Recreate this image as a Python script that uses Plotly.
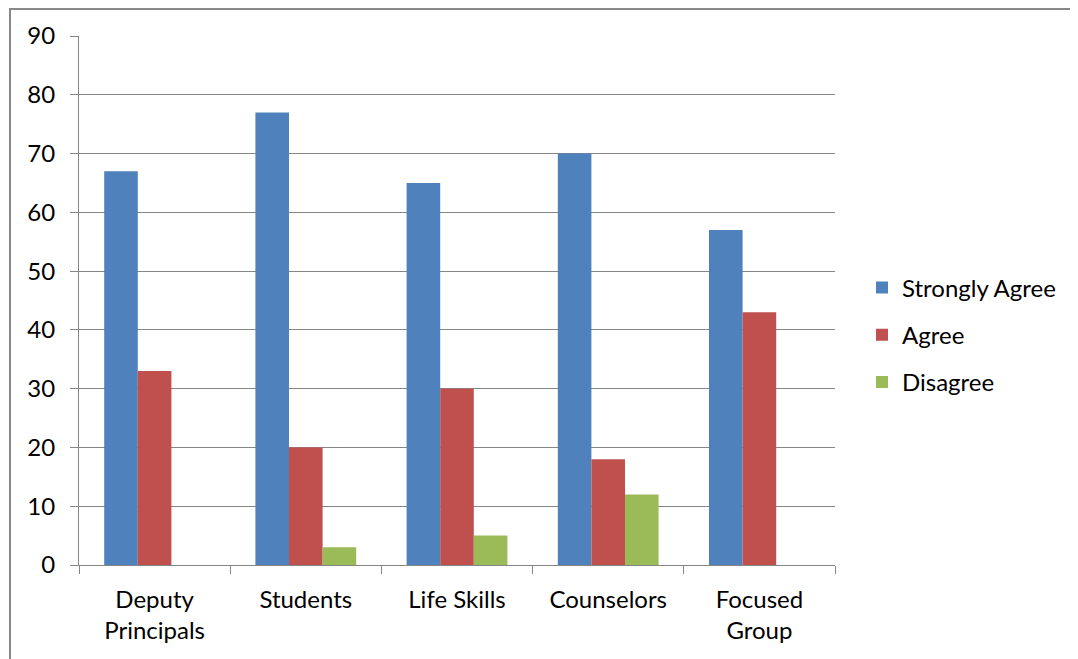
import plotly.graph_objects as go

categories = ["Deputy<br>Principals", "Students", "Life Skills", "Counselors", "Focused<br>Group"]
strongly_agree = [67, 77, 65, 70, 57]
agree = [33, 20, 30, 18, 43]
disagree = [0, 3, 5, 12, 0]
y_ticks = [0, 10, 20, 30, 40, 50, 60, 70, 80, 90]

FONT = "Lato"
FS = 24
GRID = "#868686"

fig = go.Figure()
for name, vals, col in [("Strongly Agree", strongly_agree, "#4F81BD"),
                        ("Agree", agree, "#C0504D"),
                        ("Disagree", disagree, "#9BBB59")]:
    fig.add_trace(go.Bar(x=categories, y=vals, name=name, marker_color=col,
                         marker_line_width=0, legendgroup=name))

OFF = 8  # page body margin
L, R, T, B = 79 - OFF, 835 - OFF, 36 - OFF, 565 - OFF
W, H = 1078 - OFF, 659 - OFF
pw, ph = R - L, B - T

bx = (10 - OFF - L) / pw
by = 1 + (T - 1) / ph

fig.update_layout(
    width=W, height=H,
    margin=dict(l=L, r=W - R, t=T, b=H - B, pad=0),
    paper_bgcolor="white", plot_bgcolor="white",
    barmode="group", bargap=1.5 / 4.5, bargroupgap=0,
    font=dict(family=FONT, size=FS, color="black"),
    showlegend=True,
    legend=dict(x=(862 - OFF - L) / pw, xanchor="left",
                y=(565 - 335) / 529, yanchor="middle",
                font=dict(family=FONT, size=FS), tracegroupgap=13,
                itemwidth=30, bgcolor="rgba(0,0,0,0)"),
    xaxis=dict(showline=True, linecolor=GRID, linewidth=1, ticks="outside",
               tickson="boundaries", ticklen=8, tickcolor=GRID, showgrid=False,
               ticklabelstandoff=13, tickfont=dict(family=FONT, size=FS)),
    yaxis=dict(range=[0, 90], tickvals=y_ticks, showline=True, linecolor=GRID,
               linewidth=1, ticks="outside", ticklen=8, tickcolor=GRID,
               gridcolor=GRID, gridwidth=1, zeroline=False,
               ticklabelstandoff=10, tickfont=dict(family=FONT, size=FS)),
    shapes=[dict(type="path", xref="paper", yref="paper",
                 path=f"M {bx},{-(H - B + 5) / ph} L {bx},{by} L {(W + 5 - L) / pw},{by}",
                 line=dict(color="#888888", width=2))],
)

fig.write_html("out.html")
